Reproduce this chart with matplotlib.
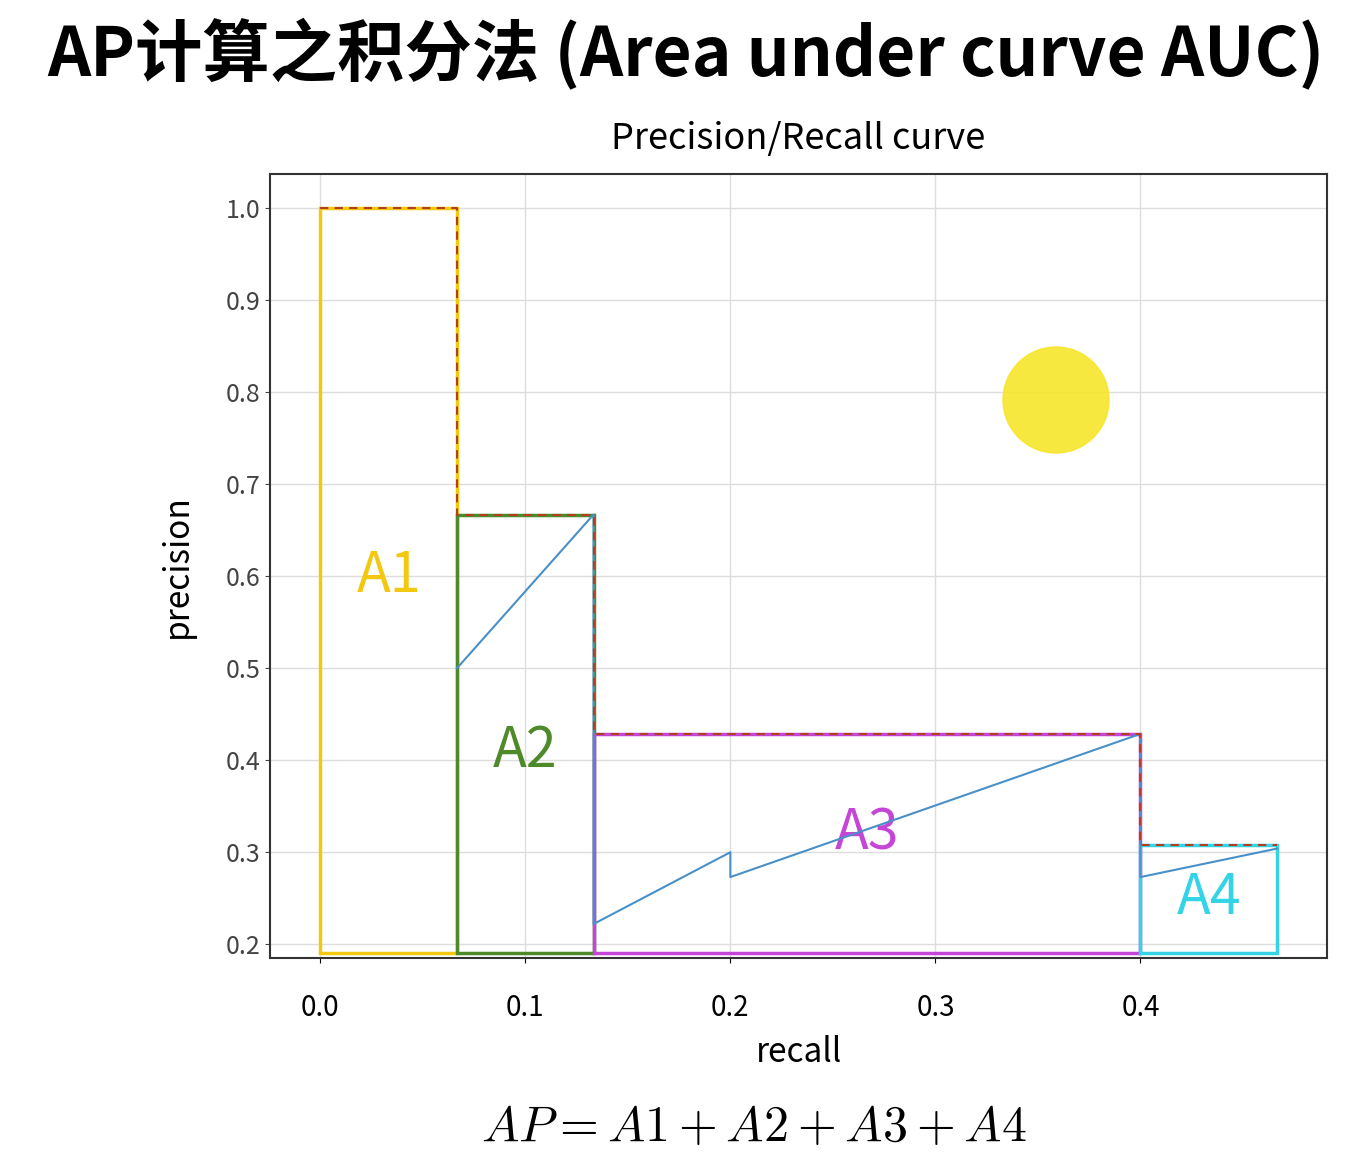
import matplotlib.pyplot as plt
from matplotlib.patches import Rectangle, Ellipse

plt.rcParams['font.family'] = ['Noto Sans CJK SC', 'DejaVu Sans']
plt.rcParams['mathtext.fontset'] = 'cm'

# --- Data ---
recall_edges = [0.0, 0.0667, 0.1333, 0.4, 0.4667]
interp_prec = [1.0, 0.667, 0.4286, 0.3077]
box_labels = ["A1", "A2", "A3", "A4"]
box_colours = ["#f2c811", "#4f8a2a", "#c545d6", "#35d3e6"]

pr_recall = [0.0667, 0.1333, 0.1333, 0.2, 0.2, 0.4, 0.4, 0.4667]
pr_precision = [0.5, 0.667, 0.222, 0.3, 0.273, 0.4286, 0.273, 0.304]

fig = plt.figure(figsize=(13.46, 11.54), dpi=100)
ax = fig.add_axes([0.2006, 0.1698, 0.7853, 0.6794])
ax.set_xlim(-0.0245, 0.491)
ax.set_ylim(0.185, 1.037)

ybase = 0.19
for i, (lab, col) in enumerate(zip(box_labels, box_colours)):
    x0, x1 = recall_edges[i], recall_edges[i + 1]
    ax.add_patch(Rectangle((x0, ybase), x1 - x0, interp_prec[i] - ybase,
                           fill=False, edgecolor=col, linewidth=2.5, zorder=3))
    ax.text((x0 + x1) / 2, [0.6, 0.41, 0.32, 0.25][i], lab, color=col,
            fontsize=40, ha='center', va='center', zorder=4)

# interpolated envelope (dashed)
sx, sy = [], []
for i in range(len(interp_prec)):
    sx += [recall_edges[i], recall_edges[i + 1]]
    sy += [interp_prec[i], interp_prec[i]]
ax.plot(sx, sy, linestyle=(0, (4, 3)), color='#b04020', linewidth=1.5, zorder=6)

ax.plot(pr_recall, pr_precision, color='#4a90c8', linewidth=1.5, zorder=5)

ax.set_xticks([0.0, 0.1, 0.2, 0.3, 0.4])
ax.set_yticks([0.2, 0.3, 0.4, 0.5, 0.6, 0.7, 0.8, 0.9, 1.0])
ax.tick_params(axis='x', labelsize=20, pad=22)
ax.tick_params(axis='y', labelsize=18, colors='#444444', labelcolor='#444444')
ax.tick_params(axis='x', labelcolor='black')
ax.grid(color='#dddddd', linewidth=1)
ax.set_axisbelow(True)
for s in ax.spines.values():
    s.set_color('#333333')
    s.set_linewidth(1.5)
ax.set_xlabel("recall", fontsize=24, labelpad=8)
ax.set_ylabel("precision", fontsize=24, labelpad=22)
ax.set_title("Precision/Recall curve", fontsize=26, pad=18)

fig.text(0.035, 0.952, "AP计算之积分法 (Area under curve AUC)", fontsize=48.5,
         fontweight='bold', ha='left', va='center')
fig.text(0.56, 0.023, r"$AP = A1 + A2 + A3 + A4$", fontsize=36,
         ha='center', va='center')

fig.add_artist(Ellipse((1056 / 1346, 1 - 400 / 1154), 106 / 1346, 106 / 1154,
                       transform=fig.transFigure, color='#f7e62a', alpha=0.9, zorder=10))

fig.savefig("out.png", dpi=100)
